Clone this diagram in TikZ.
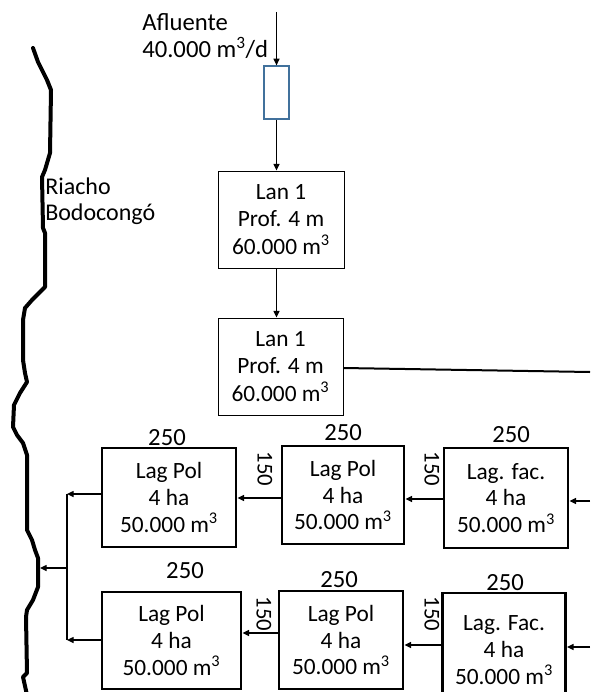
\documentclass[tikz,border=0pt]{standalone}
\usepackage{fontspec}
\setmainfont{Carlito}
\usetikzlibrary{arrows.meta}
\definecolor{filtblue}{HTML}{41719C}
\newcommand{\cubm}{m\textsuperscript{3}}
\begin{document}
\begin{tikzpicture}[x=0.75pt,y=-0.75pt,
  thinbox/.style={draw,line width=0.75pt,inner sep=0pt,align=center,font=\fontsize{17.5}{20.5}\selectfont},
  thickbox/.style={draw,line width=2.2pt,inner sep=0pt,align=center,font=\fontsize{17.5}{20}\selectfont},
  lbl/.style={inner sep=0pt,font=\fontsize{18.5}{20}\selectfont},
  rlbl/.style={inner sep=0pt,rotate=-90,font=\fontsize{17}{20}\selectfont},
  arr/.style={line width=1pt,-{Triangle[length=5pt,width=4.5pt]}},
  river/.style={line width=3pt,line join=round,line cap=round}
  ]
\useasboundingbox (0,0) rectangle (590,692);
\clip (0,0) rectangle (590,692);

% river
\draw[river] (33,48) -- (38,62) -- (42,70) -- (47,80) -- (51,90) -- (50,153) -- (45,170) -- (42,177)
  -- (43,228) -- (45,233) -- (45,287) -- (40,292) -- (32,300) -- (25,308) -- (23,320) -- (23,360)
  -- (25,373) -- (27,382) -- (20,393) -- (14,405) -- (13,427) -- (17,435) -- (23,443) -- (27,455)
  -- (27,530) -- (32,540) -- (35,550) -- (38,558) -- (38,587) -- (33,600) -- (27,610) -- (26,617)
  -- (27,673) -- (23,677) -- (27,695);
\node[anchor=west,align=left,inner sep=0pt,font=\fontsize{18}{19.5}\selectfont] (riacho) at (45,201) {Riacho\\Bodocongó};

% inflow
\node[lbl,anchor=west,align=left] (aft) at (142,36) {Afluente\\40.000 \cubm/d};
\node[draw=filtblue,fill=white,line width=0.9pt,minimum width=18.75pt,minimum height=39.75pt,inner sep=0pt] (f) at (276.5,92.5) {};
\coordinate (af) at (276.5,12);
\draw[arr] (af) -- (af |- f.north);

% anaerobic ponds
\node[thinbox,minimum width=94.5pt,minimum height=72.75pt] (l1) at (281,219.5) {Lan 1\\Prof. 4 m\\60.000 \cubm};
\node[thinbox,minimum width=93.75pt,minimum height=72.75pt] (l2) at (280.5,366.5) {Lan 1\\Prof. 4 m\\60.000 \cubm};
\draw[arr] (f.south) -- (f.south |- l1.north);
\draw[arr] (f.south |- l1.south) -- (f.south |- l2.north);
\path (l2.east) ++(0,1.5) coordinate (l2o);
\coordinate (out) at (590,372);
\draw[line width=1.5pt] (l2o) -- (out);

% row 1
\node[thickbox,minimum width=100.5pt,minimum height=74.25pt] (A) at (169,497.5) {Lag Pol\\4 ha\\50.000 \cubm};
\node[thickbox,minimum width=91.5pt,minimum height=73.5pt] (B) at (343,495) {Lag Pol\\4 ha\\50.000 \cubm};
\node[thickbox,minimum width=93pt,minimum height=75pt] (C) at (506,498) {Lag. fac.\\4 ha\\50.000 \cubm};
\node[lbl] (tA) at (167,438) {250};
\node[lbl] (tB) at (343,433) {250};
\node[lbl] (tC) at (511,435) {250};
\node[rlbl] (sAB) at (265,469) {150};
\node[rlbl] (sBC) at (432,469) {150};

% row 2
\node[thickbox,minimum width=104.25pt,minimum height=72.75pt] (D) at (171.5,640.5) {Lag Pol\\4 ha\\50.000 \cubm};
\node[thickbox,minimum width=93pt,minimum height=73.5pt] (E) at (341,640) {Lag Pol\\4 ha\\50.000 \cubm};
\node[thickbox,minimum width=92.25pt,minimum height=85.5pt] (F) at (504,650) {Lag. Fac.\\4 ha\\50.000 \cubm};
\node[lbl] (tD) at (185,571) {250};
\node[lbl] (tE) at (339,580) {250};
\node[lbl] (tF) at (505,583) {250};
\node[rlbl] (sDE) at (264,614) {150};
\node[rlbl] (sEF) at (432,614) {150};

% flows row 1
\coordinate (inC) at (590,501);
\draw[arr] (inC) -- (inC -| C.east);
\path (C.west) ++(0,1) coordinate (cb);
\draw[arr] (cb) -- (cb -| B.east);
\path (B.west) ++(0,3) coordinate (ba);
\draw[arr] (ba) -- (ba -| A.east);

% flows row 2
\coordinate (inF) at (590,647);
\draw[arr] (inF) -- (inF -| F.east);
\path (F.west) ++(0,-5) coordinate (fe);
\draw[arr] (fe) -- (fe -| E.east);
\path (E.west) ++(0,-7) coordinate (ed);
\draw[arr] (ed) -- (ed -| D.east);

% collector to river
\coordinate (jm) at (67,568);
\coordinate (rv) at (40,568);
\path (A.west) ++(0,-3.5) coordinate (ao);
\path (D.west) ++(0,-0.5) coordinate (do);
\draw[arr] (ao) -- (ao -| jm);
\draw[arr] (do) -- (do -| jm);
\draw[line width=1pt] (ao -| jm) -- (do -| jm);
\draw[arr] (jm) -- (rv);
\end{tikzpicture}
\end{document}
